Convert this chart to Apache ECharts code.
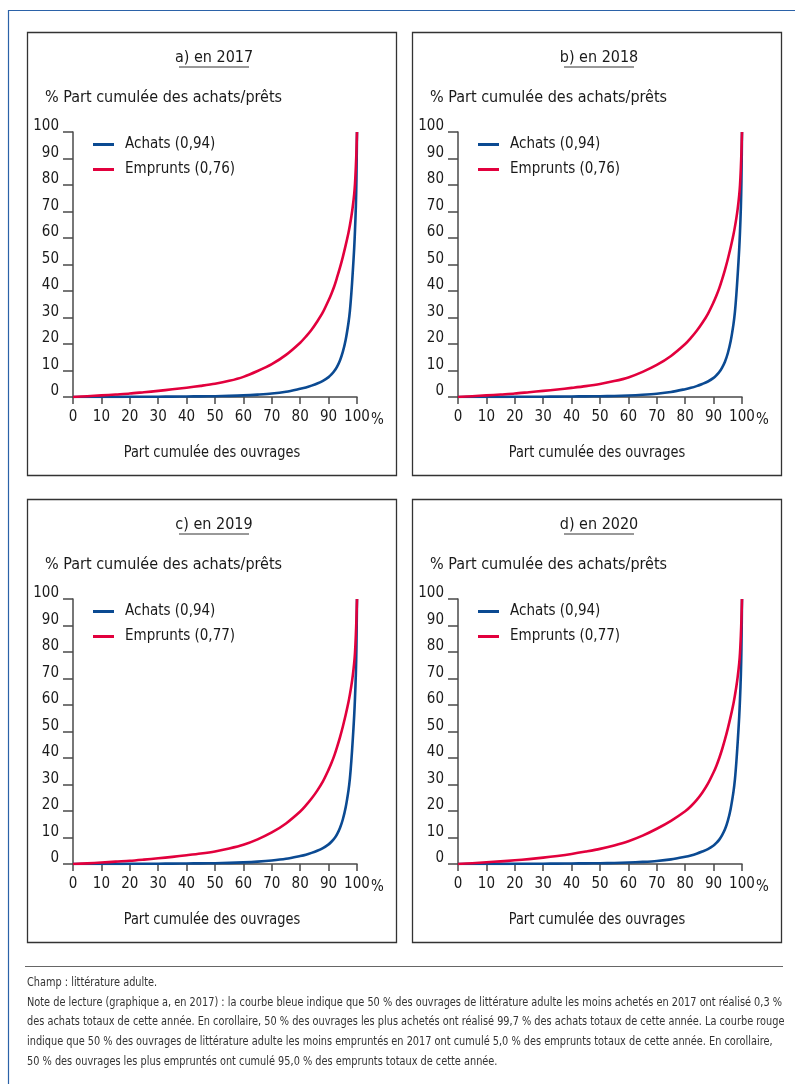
<!DOCTYPE html>
<html>
<head>
<meta charset="utf-8">
<script src="https://cdn.jsdelivr.net/npm/echarts@6/dist/echarts.min.js"></script>
<style>
html,body{margin:0;padding:0;background:#fff;}
#c{width:795px;height:1084px;}
</style>
</head>
<body>
<div id="c"></div>
<script>
// ---- data ----
var xPts = [0,5,10,15,20,25,30,35,40,45,50,55,60,65,70,75,80,82,84,86,88,90,91,92,93,94,95,96,97,97.5,98,98.5,99,99.3,99.6,99.8,100];
var panelTitles = ['a) en 2017','b) en 2018','c) en 2019','d) en 2020'];
var achatsNames = ['Achats (0,94)','Achats (0,94)','Achats (0,94)','Achats (0,94)'];
var empruntsNames = ['Emprunts (0,76)','Emprunts (0,76)','Emprunts (0,77)','Emprunts (0,77)'];
var achats2017 = [0,0.01,0.03,0.05,0.07,0.1,0.12,0.16,0.2,0.25,0.3,0.42,0.6,0.9,1.3,2.0,3.1,3.6,4.3,5.1,6.1,7.5,8.5,9.8,11.5,13.8,17,21.5,28,32.5,39,47,56,63,72,82,100];
var emprunts2017 = [0,0.3,0.6,0.95,1.3,1.8,2.3,2.9,3.5,4.2,5.0,6.1,7.6,9.8,12.4,15.9,20.5,22.8,25.4,28.5,32,36.5,39,41.8,45.2,48.8,52.8,57.2,62,64.8,68,71.8,76.5,80.5,87,92.5,100];
var achats2018 = [0,0.01,0.03,0.05,0.07,0.1,0.12,0.16,0.2,0.25,0.3,0.4,0.57,0.85,1.25,1.9,2.95,3.45,4.1,4.9,5.85,7.2,8.2,9.4,11.1,13.3,16.5,21,27.5,32,38.5,46.5,55.5,62.5,71.5,81.5,100];
var emprunts2018 = [0,0.3,0.6,0.95,1.3,1.8,2.3,2.85,3.45,4.1,4.9,6.0,7.4,9.5,12.1,15.5,20,22.3,24.9,27.9,31.4,35.8,38.3,41.1,44.4,48,52,56.4,61.3,64.2,67.4,71.2,76,80,86.5,92.5,100];
var achats2019 = [0,0.01,0.03,0.05,0.07,0.1,0.12,0.16,0.2,0.25,0.3,0.42,0.6,0.88,1.3,1.95,3.0,3.5,4.2,5.0,6.0,7.4,8.4,9.6,11.3,13.6,16.8,21.3,27.8,32.3,38.8,46.8,55.8,62.8,71.8,81.8,100];
var emprunts2019 = [0,0.25,0.55,0.9,1.2,1.65,2.15,2.7,3.3,3.95,4.75,5.85,7.25,9.3,11.9,15.3,19.8,22.1,24.7,27.7,31.2,35.6,38.1,40.9,44.2,47.8,51.8,56.2,61.1,64,67.2,71,75.8,79.8,86.5,92.5,100];
var achats2020 = [0,0.01,0.03,0.05,0.07,0.1,0.12,0.16,0.2,0.25,0.3,0.4,0.55,0.8,1.15,1.75,2.75,3.25,3.9,4.7,5.65,7.0,8.0,9.2,10.9,13.1,16.3,20.8,27.3,31.8,38.3,46.3,55.3,62.3,71.3,81.3,100];
var emprunts2020 = [0,0.3,0.65,1.0,1.4,1.85,2.4,3.05,3.8,4.7,5.7,7.0,8.6,10.7,13.3,16.3,19.9,21.8,24.1,26.9,30.3,34.6,37.1,40,43.3,47,51.1,55.6,60.6,63.6,66.9,70.8,75.6,79.7,86.3,92.4,100];
var yAxisTitle = '% Part cumulée des achats/prêts';
var xAxisTitle = 'Part cumulée des ouvrages';
var noteLines = [
 'Champ : littérature adulte.',
 'Note de lecture (graphique a, en 2017) : la courbe bleue indique que 50 % des ouvrages de littérature adulte les moins achetés en 2017 ont réalisé 0,3 %',
 'des achats totaux de cette année. En corollaire, 50 % des ouvrages les plus achetés ont réalisé 99,7 % des achats totaux de cette année. La courbe rouge',
 'indique que 50 % des ouvrages de littérature adulte les moins empruntés en 2017 ont cumulé 5,0 % des emprunts totaux de cette année. En corollaire,',
 '50 % des ouvrages les plus empruntés ont cumulé 95,0 % des emprunts totaux de cette année.'
];

var achatsAll = [achats2017, achats2018, achats2019, achats2020];
var empruntsAll = [emprunts2017, emprunts2018, emprunts2019, emprunts2020];

var FONT = "'Liberation Sans Narrow','DejaVu Sans Condensed',sans-serif";
var BLUE = '#0b4a92';
var RED = '#e2003d';
var TXT = '#1a1a1a';
var AX = '#4a4a4a';

function pairs(xs, ys){ return xs.map(function(x,i){ return [x, ys[i]]; }); }

var mctx = document.createElement('canvas').getContext('2d');
mctx.font = '12.5px ' + FONT;
var noteScale = 755 / mctx.measureText(noteLines[1]).width;

var offsets = [[0,0],[385,0],[0,467],[385,467]];
var grids=[], xAxes=[], yAxes=[], series=[], legends=[], graphics=[];

offsets.forEach(function(o, i){
  var ox=o[0], oy=o[1];
  grids.push({left:73+ox, top:132+oy, width:284, height:265, containLabel:false});
  xAxes.push({
    type:'value', gridIndex:i, min:0, max:100, interval:10,
    axisLine:{show:true, onZero:false, lineStyle:{color:AX, width:1.5}},
    axisTick:{show:true, length:7, inside:false, lineStyle:{color:AX, width:1.5}},
    axisLabel:{color:TXT, fontFamily:FONT, fontSize:15, margin:13},
    splitLine:{show:false}
  });
  yAxes.push({
    type:'value', gridIndex:i, min:0, max:100, interval:10,
    axisLine:{show:true, onZero:false, lineStyle:{color:AX, width:1.5}},
    axisTick:{show:true, length:10, inside:false, lineStyle:{color:AX, width:1.5}},
    axisLabel:{color:TXT, fontFamily:FONT, fontSize:15, margin:14, verticalAlign:'bottom', lineHeight:11},
    splitLine:{show:false}
  });
  series.push({
    name:achatsNames[i], type:'line', xAxisIndex:i, yAxisIndex:i,
    data:pairs(xPts, achatsAll[i]), showSymbol:false, symbol:'none', smooth:0.3,
    lineStyle:{color:BLUE, width:2.6, join:'round'}, itemStyle:{color:BLUE}, silent:true, animation:false
  });
  series.push({
    name:empruntsNames[i], type:'line', xAxisIndex:i, yAxisIndex:i,
    data:pairs(xPts, empruntsAll[i]), showSymbol:false, symbol:'none', smooth:0.3,
    lineStyle:{color:RED, width:2.6, join:'round'}, itemStyle:{color:RED}, silent:true, animation:false
  });
  legends.push({
    data:[achatsNames[i], empruntsNames[i]],
    left:88+ox, top:132+oy, orient:'vertical',
    icon:'rect', itemWidth:21, itemHeight:3, itemGap:10,
    selectedMode:false,
    textStyle:{color:TXT, fontFamily:FONT, fontSize:15, padding:[0,0,0,6]}
  });
  graphics.push({type:'rect', shape:{x:27.5+ox, y:32.5+oy, width:369, height:443},
    style:{fill:'none', stroke:'#333', lineWidth:1.3}, silent:true});
  graphics.push({type:'text', x:214+ox, y:58+oy,
    style:{text:panelTitles[i], fill:TXT, font:'16px '+FONT, textAlign:'center', textVerticalAlign:'middle'}});
  graphics.push({type:'line', shape:{x1:179+ox, y1:67+oy, x2:249+ox, y2:67+oy},
    style:{stroke:'#333', lineWidth:1}});
  graphics.push({type:'text', x:45+ox, y:98+oy,
    style:{text:yAxisTitle, fill:TXT, font:'16px '+FONT, textAlign:'left', textVerticalAlign:'middle'}});
  graphics.push({type:'text', x:371+ox, y:420+oy,
    style:{text:'%', fill:TXT, font:'15px '+FONT, textAlign:'left', textVerticalAlign:'middle'}});
  graphics.push({type:'text', x:212+ox, y:453+oy, scaleX:0.9,
    style:{text:xAxisTitle, fill:TXT, font:'16px '+FONT, textAlign:'center', textVerticalAlign:'middle'}});
});

graphics.push({type:'line', shape:{x1:8, y1:10.5, x2:795, y2:10.5}, style:{stroke:'#2b62a8', lineWidth:1.2}});
graphics.push({type:'line', shape:{x1:8.5, y1:10, x2:8.5, y2:1084}, style:{stroke:'#2b62a8', lineWidth:1.2}});
graphics.push({type:'line', shape:{x1:25, y1:966.5, x2:783, y2:966.5}, style:{stroke:'#666', lineWidth:1}});
noteLines.forEach(function(t, k){
  graphics.push({type:'text', x:27, y:983 + k*19.6, scaleX:noteScale,
    style:{text:t, fill:'#333', font:'12.5px '+FONT, textAlign:'left', textVerticalAlign:'middle'}});
});

var chart = echarts.init(document.getElementById('c'), null, {renderer:'canvas'});
chart.setOption({
  animation:false,
  backgroundColor:'#fff',
  grid:grids, xAxis:xAxes, yAxis:yAxes, series:series, legend:legends,
  graphic:{elements:graphics}
});
</script>
</body>
</html>
